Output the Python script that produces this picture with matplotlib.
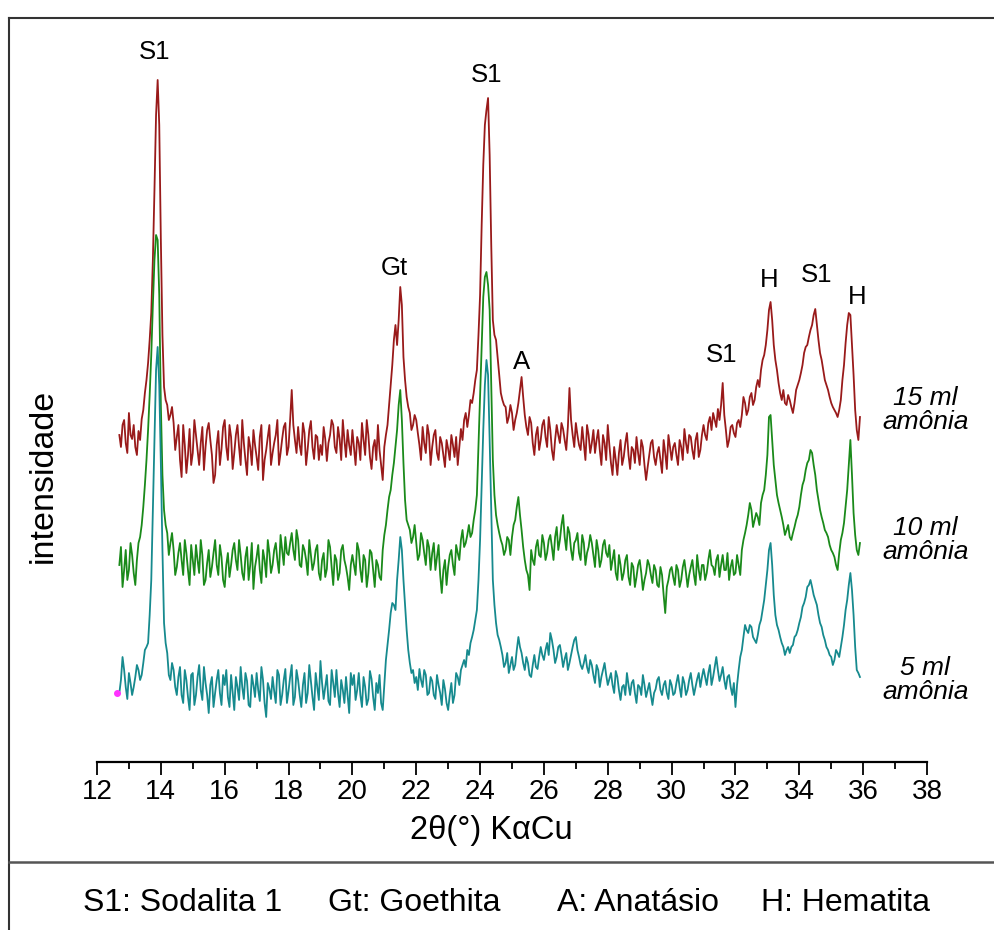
import matplotlib
matplotlib.use("Agg")
import matplotlib.pyplot as plt
from matplotlib.lines import Line2D
from matplotlib.ticker import MultipleLocator
import numpy as np

plt.rcParams["font.family"] = ["Liberation Sans", "DejaVu Sans"]

# 2-theta sampling: readings on the 0.1 grid (12.7 .. 35.9)
# and in-between readings on the 0.05 offsets (12.75 .. 35.85)
two_theta = np.round(np.arange(12.7, 35.91, 0.05), 2)

# stacked intensities (arbitrary units, offsets already included)
red_15ml = [
    330, 340, 322,
    352, 326, 318, 334, 346, 372, 402, 452, 575, 685,
    525, 378, 360, 350, 342, 328, 305, 340, 292, 336,
    312, 330, 300, 338, 318, 342, 310, 290, 334, 316,
    345, 305, 328, 312, 340, 300, 322, 290, 318, 335,
    308, 328, 285, 315, 340, 312, 330, 300, 326, 342,
    318, 375, 325, 338, 310, 332, 316, 344, 306, 328,
    320, 338, 304, 330, 340, 312, 326, 345, 308, 320,
    335, 300, 322, 342, 310, 330, 296, 325, 340, 300,
    318, 340, 380, 425, 420, 478, 408, 368, 352, 340,
    345, 320, 338, 312, 330, 318, 335, 305, 322, 298,
    316, 330, 308, 300, 336, 345, 338, 365, 372, 395,
    470, 600, 655, 610, 445, 425, 390, 365, 358, 348,
    352, 345, 362, 388, 350, 330, 342, 310, 338, 325,
    345, 318, 335, 305, 340, 322, 336, 315, 377, 330,
    342, 320, 338, 305, 330, 322, 312, 335, 300, 322,
    340, 302, 318, 290, 325, 308, 332, 296, 315, 328,
    300, 318, 285, 310, 325, 300, 318, 292, 312, 330,
    305, 322, 300, 318, 336, 312, 328, 306, 332, 315,
    340, 325, 348, 352, 338, 345, 382, 335, 325, 340,
    328, 345, 350, 362, 355, 372, 365, 385, 395, 410,
    435, 463, 420, 395, 372, 375, 360, 365, 352, 375,
    385, 400, 418, 428, 440, 456, 425, 405, 385, 375,
    362, 355, 348, 365, 400, 440, 450, 390, 335, 348,
]
red_15ml_mid = [
    318, 345, 312,
    330, 340, 310, 325, 355, 385, 425, 505, 650, 640,
    430, 365, 345, 358, 315, 340, 288, 320, 310, 300,
    345, 315, 322, 295, 335, 325, 282, 320, 300, 338,
    318, 340, 296, 330, 318, 345, 305, 328, 300, 320,
    295, 340, 305, 328, 300, 322, 345, 312, 338, 310,
    345, 340, 312, 320, 342, 300, 335, 318, 330, 305,
    310, 326, 322, 345, 318, 338, 305, 325, 335, 310,
    318, 328, 305, 325, 345, 308, 318, 305, 315, 285,
    330, 360, 400, 440, 445, 460, 385, 358, 335, 350,
    332, 305, 322, 340, 300, 330, 312, 328, 310, 325,
    305, 320, 328, 318, 325, 352, 350, 362, 385, 430,
    540, 640, 667, 520, 430, 408, 372, 360, 342, 360,
    335, 352, 375, 368, 338, 348, 322, 330, 315, 340,
    328, 348, 315, 325, 330, 342, 325, 338, 345, 318,
    330, 315, 322, 340, 312, 335, 325, 315, 330, 305,
    320, 290, 305, 312, 300, 322, 310, 318, 302, 312,
    325, 300, 298, 322, 308, 312, 305, 325, 296, 318,
    318, 310, 325, 305, 322, 330, 315, 325, 308, 330,
    330, 342, 335, 345, 356, 360, 350, 318, 338, 332,
    342, 338, 368, 350, 368, 360, 378, 378, 405, 420,
    455, 445, 405, 382, 365, 362, 370, 358, 362, 380,
    392, 412, 420, 435, 450, 440, 412, 395, 380, 368,
    358, 352, 355, 385, 422, 452, 420, 355, 325,
]

green_10ml = [
    200, 178, 215,
    195, 210, 180, 222, 240, 280, 335, 410, 505, 525,
    360, 255, 232, 222, 215, 198, 222, 190, 212, 180,
    205, 220, 192, 210, 185, 215, 198, 225, 190, 208,
    178, 212, 200, 222, 195, 210, 185, 218, 200, 176,
    208, 195, 215, 188, 212, 200, 222, 192, 215, 228,
    210, 232, 205, 225, 198, 215, 190, 210, 202, 220,
    185, 212, 196, 218, 180, 205, 192, 220, 198, 175,
    210, 190, 215, 183, 205, 192, 212, 178, 200, 185,
    230, 255, 275, 302, 335, 375, 302, 245, 235, 228,
    222, 210, 225, 200, 218, 212, 195, 220, 172, 205,
    198, 215, 190, 212, 225, 218, 230, 228, 245, 270,
    368, 468, 493, 455, 305, 250, 232, 220, 215, 225,
    228, 245, 268, 235, 205, 190, 215, 200, 225, 208,
    222, 212, 230, 205, 238, 225, 250, 215, 232, 205,
    225, 212, 230, 200, 218, 222, 198, 215, 205, 225,
    208, 195, 215, 185, 200, 192, 210, 180, 198, 188,
    205, 175, 192, 200, 182, 195, 178, 190, 152, 185,
    198, 180, 195, 185, 205, 178, 198, 190, 210, 185,
    200, 192, 215, 198, 205, 188, 210, 195, 185, 205,
    192, 200, 215, 232, 250, 255, 245, 248, 262, 275,
    310, 350, 300, 270, 255, 240, 235, 228, 232, 245,
    258, 280, 295, 305, 312, 290, 265, 248, 235, 228,
    215, 208, 195, 225, 242, 275, 325, 252, 215, 222,
]
green_10ml_mid = [
    218, 195, 185,
    222, 192, 205, 228, 258, 305, 370, 460, 530, 470,
    290, 240, 210, 232, 190, 212, 205, 225, 195, 220,
    190, 205, 225, 180, 202, 188, 212, 200, 220, 185,
    200, 188, 215, 205, 225, 192, 208, 185, 222, 198,
    220, 182, 205, 225, 192, 215, 205, 230, 200, 212,
    222, 215, 235, 200, 220, 205, 225, 195, 215, 192,
    205, 188, 225, 198, 210, 185, 215, 205, 188, 200,
    200, 222, 195, 210, 178, 215, 195, 205, 188, 215,
    240, 268, 290, 318, 360, 345, 265, 240, 222, 240,
    205, 232, 212, 225, 195, 222, 208, 190, 195, 180,
    210, 200, 220, 205, 235, 222, 240, 232, 255, 320,
    420, 488, 480, 380, 270, 240, 225, 210, 228, 210,
    240, 258, 250, 218, 195, 175, 205, 218, 210, 230,
    205, 225, 218, 228, 215, 240, 228, 238, 215, 222,
    232, 205, 222, 212, 230, 210, 225, 198, 220, 212,
    220, 205, 192, 210, 185, 205, 188, 202, 178, 200,
    192, 185, 205, 190, 200, 180, 198, 170, 178, 195,
    188, 200, 178, 198, 192, 190, 205, 180, 195, 200,
    185, 205, 200, 190, 210, 200, 195, 212, 198, 190,
    210, 190, 225, 240, 262, 238, 252, 240, 270, 290,
    348, 325, 285, 262, 248, 230, 240, 225, 238, 250,
    270, 285, 302, 315, 300, 275, 255, 242, 232, 220,
    212, 200, 212, 232, 258, 300, 290, 230, 210,
]

teal_5ml = [
    72, 108, 78,
    92, 70, 88, 95, 90, 115, 122, 185, 325, 418,
    302, 142, 112, 85, 95, 70, 98, 62, 85, 55,
    92, 70, 100, 65, 82, 52, 88, 72, 95, 60,
    80, 68, 90, 55, 78, 98, 66, 84, 58, 80,
    92, 64, 85, 48, 76, 88, 62, 90, 70, 96,
    74, 100, 68, 85, 58, 92, 72, 84, 55, 78,
    104, 66, 90, 60, 82, 95, 58, 75, 88, 52,
    80, 65, 92, 58, 78, 66, 86, 55, 72, 62,
    80, 120, 152, 160, 185, 228, 185, 135, 102, 95,
    88, 96, 78, 90, 72, 84, 66, 80, 60, 76,
    55, 82, 70, 88, 95, 105, 115, 122, 135, 155,
    225, 335, 405, 325, 185, 142, 125, 110, 102, 92,
    108, 100, 128, 112, 95, 102, 88, 110, 96, 118,
    105, 122, 132, 115, 108, 120, 98, 112, 102, 118,
    128, 108, 96, 110, 92, 100, 82, 95, 88, 102,
    80, 92, 72, 88, 65, 80, 92, 70, 85, 62,
    78, 90, 68, 82, 60, 76, 88, 70, 84, 66,
    80, 72, 90, 68, 82, 75, 92, 70, 86, 78,
    96, 80, 100, 88, 108, 84, 98, 76, 90, 70,
    58, 95, 115, 140, 132, 138, 125, 130, 145, 165,
    195, 222, 170, 140, 128, 118, 115, 112, 120, 130,
    142, 158, 168, 180, 178, 165, 150, 138, 125, 115,
    108, 105, 112, 118, 140, 165, 192, 150, 95, 88,
]
teal_5ml_mid = [
    85, 95, 66,
    82, 78, 100, 85, 102, 118, 150, 255, 395, 380,
    215, 122, 90, 102, 78, 88, 70, 95, 68, 90,
    60, 88, 75, 98, 70, 80, 58, 85, 72, 90,
    95, 58, 72, 88, 65, 78, 92, 60, 90, 68,
    75, 98, 62, 82, 66, 74, 95, 60, 85, 62,
    88, 60, 95, 70, 80, 62, 100, 68, 92, 65,
    82, 78, 64, 95, 68, 72, 85, 62, 70, 92,
    90, 75, 70, 88, 60, 94, 68, 82, 90, 55,
    105, 135, 162, 155, 205, 215, 160, 115, 92, 82,
    75, 85, 95, 70, 88, 70, 90, 72, 85, 62,
    70, 62, 92, 80, 100, 98, 110, 128, 145, 185,
    280, 380, 390, 255, 160, 130, 118, 98, 112, 100,
    95, 115, 118, 102, 108, 90, 100, 98, 108, 110,
    115, 110, 125, 102, 118, 110, 106, 95, 110, 125,
    115, 100, 102, 98, 105, 90, 100, 78, 95, 90,
    86, 80, 94, 75, 78, 70, 80, 82, 72, 80,
    70, 80, 75, 70, 72, 85, 75, 80, 72, 85,
    70, 82, 78, 88, 70, 85, 80, 78, 92, 88,
    88, 92, 80, 98, 95, 90, 85, 88, 78, 82,
    80, 108, 128, 135, 140, 128, 122, 140, 155, 180,
    215, 200, 150, 135, 122, 110, 118, 118, 128, 135,
    148, 162, 178, 185, 170, 160, 142, 130, 118, 110,
    100, 115, 108, 128, 155, 180, 175, 118, 92,
]

stray_x = [12.63]
stray_y = [72]

# phase labels over the peaks
peak_labels = ["S1", "Gt", "S1", "A", "S1", "H", "S1", "H"]
peak_x = [13.8, 21.3, 24.2, 25.3, 31.55, 33.05, 34.55, 35.8]
peak_y = [713, 497, 690, 403, 410, 485, 490, 468]

sample_labels = ["15 ml\namônia", "10 ml\namônia", "5 ml\namônia"]
sample_y = [355, 225, 85]

legend_items = ["S1: Sodalita 1", "Gt: Goethita", "A: Anatásio", "H: Hematita"]


def merge(on_grid, between):
    vals = np.empty(len(two_theta))
    vals[0::2] = on_grid
    vals[1::2] = between
    return vals


W, H = 995, 930
fig = plt.figure(figsize=(W / 100, H / 100), dpi=100)
ax = fig.add_axes([97 / W, (H - 762) / H, 830 / W, 742 / H])

ax.plot(two_theta, merge(red_15ml, red_15ml_mid), color="#991a1a", lw=1.3)
ax.plot(two_theta, merge(green_10ml, green_10ml_mid), color="#1a8a1a", lw=1.3)
ax.plot(two_theta, merge(teal_5ml, teal_5ml_mid), color="#168a8e", lw=1.3)
ax.plot(stray_x, stray_y, "o", color="#ff33ff", ms=4)

for lab, x, y in zip(peak_labels, peak_x, peak_y):
    ax.text(x, y, lab, ha="center", va="center", fontsize=18.5)

for lab, y in zip(sample_labels, sample_y):
    ax.text(37.95, y, lab, ha="center", va="center", fontsize=19,
            style="italic", linespacing=1.0)

ax.set_xlim(12, 38)
ax.set_ylim(3, 745)
ax.xaxis.set_major_locator(MultipleLocator(2))
ax.xaxis.set_minor_locator(MultipleLocator(1))
ax.tick_params(axis="x", which="major", direction="out", length=9, width=1.3,
               labelsize=20, pad=3)
ax.tick_params(axis="x", which="minor", direction="out", length=5, width=1.3)
ax.set_yticks([])
for side in ["left", "right", "top"]:
    ax.spines[side].set_visible(False)
ax.spines["bottom"].set_linewidth(1.6)
ax.patch.set_alpha(0)

fig.text(491 / W, 1 - 830 / H, "2θ(°) KαCu", ha="center", va="center", fontsize=23.5)
fig.text(43 / W, 1 - 476 / H, "intensidade", ha="center", va="center",
         rotation=90, fontsize=24.5)

# frame lines around the figure
fig.add_artist(Line2D([9 / W, 1], [1 - 18 / H] * 2, color="#333333", lw=1.5))
fig.add_artist(Line2D([9 / W] * 2, [0, 1 - 18 / H], color="#333333", lw=1.5))
fig.add_artist(Line2D([9 / W, 1], [1 - 862 / H] * 2, color="#555555", lw=1.8))

legend_left = [83, 328, 557, 761]
for lab, x0 in zip(legend_items, legend_left):
    fig.text(x0 / W, 1 - 903 / H, lab, ha="left", va="center", fontsize=23)

fig.savefig("out.png", dpi=100)
